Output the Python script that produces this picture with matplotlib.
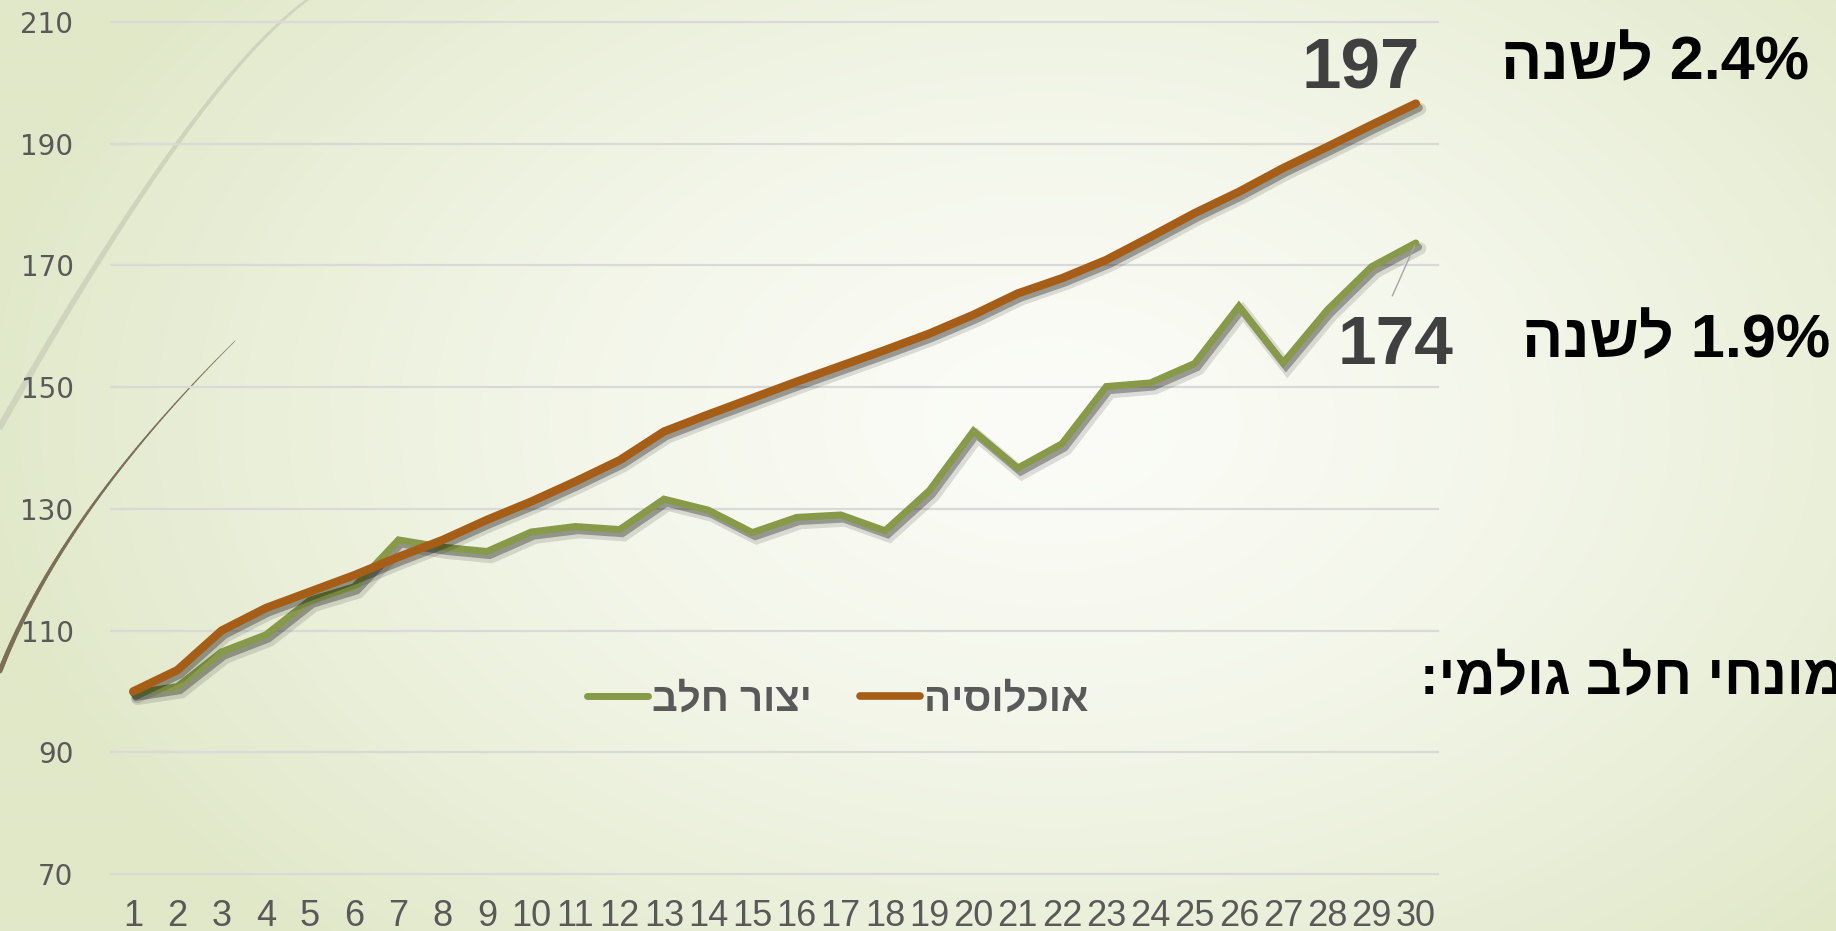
"""
Population vs. raw milk production index, 30 years.
"""
import numpy as np
import matplotlib.pyplot as plt
from matplotlib import patheffects as pe
from matplotlib.collections import LineCollection
from matplotlib.lines import Line2D

years = list(range(1, 31))
population = [100.0, 103.5, 110.0, 113.7, 116.4, 119.1, 122.1, 124.9, 128.2, 131.2,
              134.5, 138.0, 142.7, 145.5, 148.2, 150.9, 153.5, 156.1, 158.8, 161.9,
              165.4, 167.9, 170.9, 174.7, 178.6, 182.1, 186.0, 189.5, 193.1, 196.6]
milk = [99.7, 100.8, 106.5, 109.3, 115.0, 117.2, 124.9, 123.7, 123.0, 126.2,
        127.1, 126.6, 131.6, 129.8, 126.1, 128.6, 129.0, 126.4, 133.0, 142.8,
        136.7, 140.7, 150.1, 150.7, 153.9, 163.3, 154.0, 162.7, 169.8, 173.7]
y_ticks = [70, 90, 110, 130, 150, 170, 190, 210]

label_pop = "אוכלוסיה"
label_milk = "יצור חלב"
rate_pop = "2.4%"
rate_milk = "1.9%"
per_year = "לשנה"
side_note = "במונחי חלב גולמי:"

POP_COLOR = "#A65E16"
MILK_COLOR = "#869A47"
TEXT_GRAY = "#595959"
HEB = ["Liberation Sans", "DejaVu Sans"]
NARROW = ["Liberation Sans Narrow", "Liberation Sans", "DejaVu Sans"]


def heb(s):
    # matplotlib has no bidi support: feed Hebrew in visual order
    return s[::-1]


W, H = 1836, 931
fig = plt.figure(figsize=(W / 100, H / 100), dpi=100)

# background: soft radial gradient + theme arcs
bg = fig.add_axes([0, 0, 1, 1], zorder=-10)
yy, xx = np.mgrid[0:H:4, 0:W:4]
d = np.sqrt(((xx - 1050) / 1100) ** 2 + ((yy - 420) / 720) ** 2)
t = np.clip(d, 0, 1) ** 1.4
c0 = np.array([251, 252, 247]) / 255
c1 = np.array([224, 232, 200]) / 255
bg.imshow(c0 + (c1 - c0) * t[..., None], extent=(0, W, H, 0), aspect="auto",
          interpolation="bilinear")


def arc(p1, p2, p3, w0, w1, color):
    p1, p2, p3 = map(np.asarray, (p1, p2, p3))
    ctrl = 2 * p2 - (p1 + p3) / 2
    s = np.linspace(0, 1, 120)[:, None]
    pts = (1 - s) ** 2 * p1 + 2 * (1 - s) * s * ctrl + s ** 2 * p3
    segs = np.stack([pts[:-1], pts[1:]], axis=1)
    lc = LineCollection(segs, colors=color, linewidths=np.linspace(w0, w1, len(segs)),
                        capstyle="round")
    bg.add_collection(lc)


arc((0, 427), (177, 144), (310, -2), 4.5, 1.5, "#cfd4bc")
arc((0, 671), (90, 509), (235, 341), 3.5, 0.4, "#7b6f55")
bg.set_xlim(0, W)
bg.set_ylim(H, 0)
bg.axis("off")

# chart
ax = fig.add_axes([111 / W, 57 / H, 1327 / W, 852 / H])
ax.patch.set_alpha(0)
shadow = [pe.SimpleLineShadow(offset=(3, -4), alpha=0.12, shadow_color="black", linewidth=9),
          pe.SimpleLineShadow(offset=(2, -3), alpha=0.3, shadow_color="black"),
          pe.Normal()]
ax.plot(years, milk, color=MILK_COLOR, lw=5.0, solid_capstyle="round",
        solid_joinstyle="miter", path_effects=shadow, zorder=3)
ax.plot(years, population, color=POP_COLOR, lw=6.0, solid_capstyle="round",
        path_effects=shadow, zorder=4)

ax.set_xlim(0.5, 30.5)
ax.set_ylim(70, 210)
ax.set_yticks(y_ticks)
ax.set_xticks(years)
ax.grid(axis="y", color="#d9d9d9", lw=1.6)
ax.set_axisbelow(True)
for line in ax.get_ygridlines():
    line.set_clip_on(False)
for s in ax.spines.values():
    s.set_visible(False)
ax.tick_params(axis="y", length=0, pad=27, labelsize=20, labelcolor=TEXT_GRAY)
ax.tick_params(axis="x", length=0, pad=18, labelsize=26, labelcolor=TEXT_GRAY)
for lab in ax.get_xticklabels():
    lab.set_family(NARROW)

handles = [Line2D([], [], color=MILK_COLOR, lw=5, solid_capstyle="round"),
           Line2D([], [], color=POP_COLOR, lw=5.5, solid_capstyle="round")]
ax.legend(handles, [heb(label_milk), heb(label_pop)], loc="center",
          bbox_to_anchor=(0.548, 0.205), ncol=2, frameon=False,
          prop=dict(family=HEB, weight="bold", size=29), labelcolor=TEXT_GRAY,
          handlelength=1.5, handletextpad=0.1, columnspacing=1.2)

# end-point data labels
ax.annotate(f"{population[-1]:.0f}", xy=(30, population[-1]), xytext=(-55, 33),
            textcoords="offset pixels", ha="center", va="center", fontsize=51,
            weight="bold", color="#404040", family=NARROW)
ax.annotate(f"{milk[-1]:.0f}", xy=(30, milk[-1]), xytext=(-20, -103),
            textcoords="offset pixels", ha="center", va="center", fontsize=50,
            weight="bold", color="#404040", family=NARROW,
            arrowprops=dict(arrowstyle="-", color="#a6a6a6", lw=1,
                            shrinkA=12, shrinkB=2, relpos=(0.4, 1.0)))

# annual growth notes
fig.text(1655 / W, 1 - 64 / H, heb(per_year) + " " + rate_pop, ha="center", va="center",
         size=44, weight="bold", color="black", family=HEB)
fig.text(1676 / W, 1 - 342 / H, heb(per_year) + " " + rate_milk, ha="center", va="center",
         size=44, weight="bold", color="black", family=HEB)
fig.text(1420 / W, 1 - 693 / H, heb(side_note), ha="left", va="baseline",
         size=40, weight="bold", color="black", family=HEB)

fig.savefig("out.png", dpi=100)
